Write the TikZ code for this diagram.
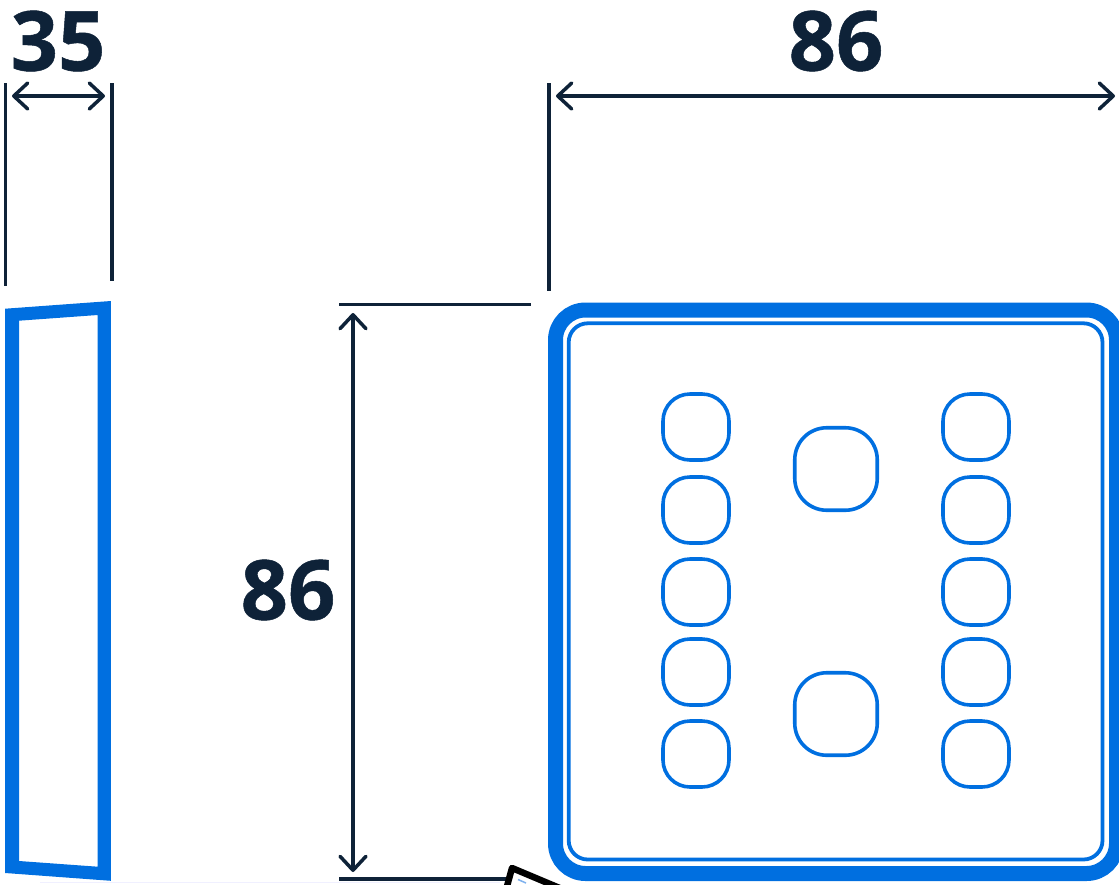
\documentclass[tikz,border=0pt]{standalone}
\usepackage{fontspec}
\setmainfont{Open Sans}[BoldFont={Open Sans Bold},BoldFeatures={FakeBold=0.6}]
\usetikzlibrary{arrows.meta}
\definecolor{dimink}{HTML}{0E2238}
\definecolor{brandblue}{HTML}{006FE0}
\definecolor{paleblue}{HTML}{7FB2EE}
\tikzset{
  dimline/.style={draw=dimink,line width=3.5pt},
  dimarrow/.style={draw=dimink,line width=3.2pt,
    {Straight Barb[length=14pt,width=26pt,line width=3.5pt,round]}-{Straight Barb[length=14pt,width=26pt,line width=3.5pt,round]}},
  dimtext/.style={text=dimink,font=\bfseries\fontsize{83}{83}\selectfont,inner sep=0pt},
  smallkey/.style={draw=brandblue,line width=3.6pt,rounded corners=27pt,minimum width=66pt,minimum height=66pt,inner sep=0pt},
  largekey/.style={draw=brandblue,line width=3.6pt,rounded corners=32pt,minimum width=82.5pt,minimum height=82.5pt,inner sep=0pt}
}
\begin{document}
\begin{tikzpicture}[x=1pt,y=-1pt]
\useasboundingbox (0,0) rectangle (1119,884);
\clip (0,0) rectangle (1119,884);
% side view
\fill[brandblue,even odd rule] (5.2,308.7) -- (110.9,301) -- (110.9,880.8) -- (5.2,873) -- cycle
  (19,320.7) -- (97.7,315) -- (97.7,866.7) -- (19,861) -- cycle;
% front plate
\draw[brandblue,line width=15pt,rounded corners=30pt] (555.5,310) rectangle (1116.5,873.5);
\draw[brandblue,line width=3.8pt,rounded corners=19pt] (568.7,323.3) rectangle (1102.5,859.5);
% keys
\foreach \n/\cy in {a/427,b/510,c/592,d/672,e/754}{
  \node[smallkey] (l\n) at (696,\cy) {};
  \node[smallkey] (r\n) at (976,\cy) {};
}
\node[largekey] (top) at (836,469) {};
\node[largekey] (bot) at (836,714) {};
% extension lines
\coordinate (e1a) at (5.7,83); \coordinate (e1b) at (5.7,286);
\coordinate (e2a) at (112,83); \coordinate (e2b) at (112,281);
\coordinate (e3a) at (549,83); \coordinate (e3b) at (549,291);
\coordinate (e4a) at (339,304.5); \coordinate (e4b) at (531,304.5);
\coordinate (e5a) at (339,879); \coordinate (e5b) at (510,879);
\draw[dimline] (e1a) -- (e1b);
\draw[dimline] (e2a) -- (e2b);
\draw[dimline] (e3a) -- (e3b);
\draw[dimline] (e4a) -- (e4b);
\draw[dimline] (e5a) -- (e5b);
% dimension arrows
\coordinate (a1a) at (12,96); \coordinate (a1b) at (105,96);
\coordinate (a2a) at (556,96); \coordinate (a2b) at (1115,96);
\coordinate (a3a) at (353,313); \coordinate (a3b) at (353,872);
\draw[dimarrow] (a1a) -- (a1b);
\draw[dimarrow] (a2a) -- (a2b);
\draw[dimarrow] (a3a) -- (a3b);
% labels
\node[dimtext] (t35) at (58,41) {35};
\node[dimtext] (t86a) at (836,41) {86};
\node[dimtext] (t86b) at (288,590) {86};
% clipped corner of the object below
\draw[black,fill=white,line width=6.5pt,line join=round] (512,868) -- (600,905) -- (495,930) -- cycle;
\draw[paleblue,line width=1.5pt] (518,879.5) -- (526,883);
% faint lower edge
\draw[blue!6,line width=1pt] (40,882.5) -- (500,882.5);
\end{tikzpicture}
\end{document}
